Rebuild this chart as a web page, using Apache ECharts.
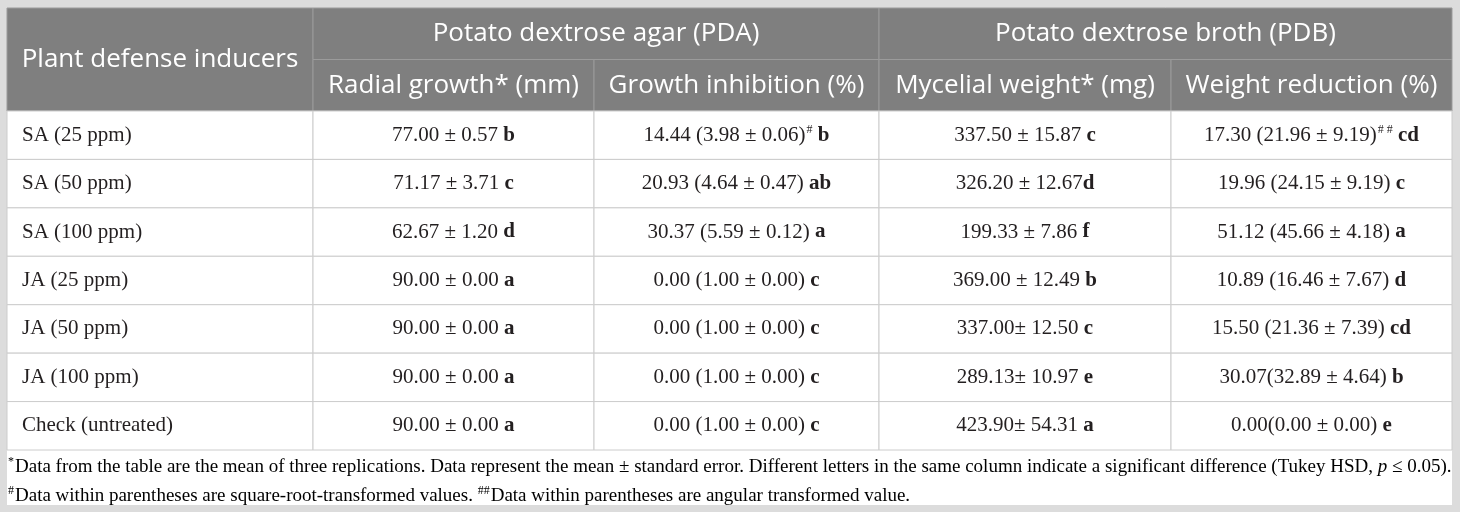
<!DOCTYPE html>
<html><head><meta charset="utf-8">
<script src="https://cdn.jsdelivr.net/npm/echarts@6/dist/echarts.min.js"></script>
<style>html,body{margin:0;padding:0;background:#dcdcdc}#c{width:1460px;height:512px}</style>
</head><body><div id="c"></div>
<script>
// ---- table content ----
const stubHeader = 'Plant defense inducers';
const groupHeaders = ['Potato dextrose agar (PDA)', 'Potato dextrose broth (PDB)'];
const subHeaders = ['Radial growth* (mm)', 'Growth inhibition (%)', 'Mycelial weight* (mg)', 'Weight reduction (%)'];
const treatments = ['SA (25 ppm)', 'SA (50 ppm)', 'SA (100 ppm)', 'JA (25 ppm)', 'JA (50 ppm)', 'JA (100 ppm)', 'Check (untreated)'];

const radialGrowth = ['77.00 ± 0.57', '71.17 ± 3.71', '62.67 ± 1.20', '90.00 ± 0.00', '90.00 ± 0.00', '90.00 ± 0.00', '90.00 ± 0.00'];
const radialLetters = ['b', 'c', 'd', 'a', 'a', 'a', 'a'];
const radialSep = [' ', ' ', ' ', ' ', ' ', ' ', ' '];
const radialSup = ['', '', '', '', '', '', ''];

const growthInhibition = ['14.44 (3.98 ± 0.06)', '20.93 (4.64 ± 0.47)', '30.37 (5.59 ± 0.12)', '0.00 (1.00 ± 0.00)', '0.00 (1.00 ± 0.00)', '0.00 (1.00 ± 0.00)', '0.00 (1.00 ± 0.00)'];
const inhibitionLetters = ['b', 'ab', 'a', 'c', 'c', 'c', 'c'];
const inhibitionSep = [' ', ' ', ' ', ' ', ' ', ' ', ' '];
const inhibitionSup = ['#', '', '', '', '', '', ''];

const mycelialWeight = ['337.50 ± 15.87', '326.20 ± 12.67', '199.33 ± 7.86', '369.00 ± 12.49', '337.00± 12.50', '289.13± 10.97', '423.90± 54.31'];
const mycelialLetters = ['c', 'd', 'f', 'b', 'c', 'e', 'a'];
const mycelialSep = [' ', '', ' ', ' ', ' ', ' ', ' '];
const mycelialSup = ['', '', '', '', '', '', ''];

const weightReduction = ['17.30 (21.96 ± 9.19)', '19.96 (24.15 ± 9.19)', '51.12 (45.66 ± 4.18)', '10.89 (16.46 ± 7.67)', '15.50 (21.36 ± 7.39)', '30.07(32.89 ± 4.64)', '0.00(0.00 ± 0.00)'];
const reductionLetters = ['cd', 'c', 'a', 'd', 'cd', 'b', 'e'];
const reductionSep = [' ', ' ', ' ', ' ', ' ', ' ', ' '];
const reductionSup = ['# #', '', '', '', '', '', ''];

const footnote1 = ['*', 'Data from the table are the mean of three replications. Data represent the mean ± standard error. Different letters in the same column indicate a significant difference (Tukey HSD, ', 'p', ' ≤ 0.05).'];
const footnote2 = ['#', 'Data within parentheses are square-root-transformed values. ', '##', 'Data within parentheses are angular transformed value.'];

// ---- layout (table units along x: column edges) ----
const colEdges = [0, 306, 587, 872, 1164, 1445];
const HEAD_FONT = '"Open Sans", "Noto Sans", sans-serif';
const BODY_FONT = '"Liberation Serif", "DejaVu Serif", serif';

const bodyColumns = [
  [radialGrowth, radialSup, radialSep, radialLetters],
  [growthInhibition, inhibitionSup, inhibitionSep, inhibitionLetters],
  [mycelialWeight, mycelialSup, mycelialSep, mycelialLetters],
  [weightReduction, reductionSup, reductionSep, reductionLetters]
];

// header cells: [xStart, row, xEnd, rowSpan]
const headerData = [], headerTexts = [];
headerData.push([colEdges[0], 0, colEdges[1], 2]); headerTexts.push(stubHeader);
headerData.push([colEdges[1], 0, colEdges[3], 1]); headerTexts.push(groupHeaders[0]);
headerData.push([colEdges[3], 0, colEdges[5], 1]); headerTexts.push(groupHeaders[1]);
subHeaders.forEach((t, j) => { headerData.push([colEdges[j + 1], 1, colEdges[j + 2], 1]); headerTexts.push(t); });

// body cells
const bodyData = [], bodyTexts = [], bodyAlign = [];
treatments.forEach((t, r) => {
  bodyData.push([colEdges[0], r, colEdges[1]]); bodyTexts.push('{n|' + t + '}'); bodyAlign.push('left');
  bodyColumns.forEach((c, j) => {
    let s = '{n|' + c[0][r] + '}';
    if (c[1][r]) s += '{s|' + c[1][r] + '}';
    s += (c[2][r] ? '{n|' + c[2][r] + '}' : '') + '{b|' + c[3][r] + '}';
    bodyData.push([colEdges[j + 1], r, colEdges[j + 2]]); bodyTexts.push(s); bodyAlign.push('center');
  });
});

const bodyRich = {
  n: { fontFamily: BODY_FONT, fontSize: 21, color: '#231f20', lineHeight: 26 },
  b: { fontFamily: BODY_FONT, fontSize: 21, fontWeight: 'bold', color: '#231f20', lineHeight: 26 },
  s: { fontFamily: BODY_FONT, fontSize: 12, color: '#231f20', lineHeight: 12, verticalAlign: 'top', padding: [2, 0, 0, 1] }
};
const footRich = {
  n: { fontFamily: BODY_FONT, fontSize: 19, color: '#231f20', lineHeight: 24 },
  i: { fontFamily: BODY_FONT, fontSize: 19, fontStyle: 'italic', color: '#231f20', lineHeight: 24 },
  s: { fontFamily: BODY_FONT, fontSize: 12, color: '#231f20', lineHeight: 12, verticalAlign: 'top', padding: [1, 1, 0, 0] }
};

function cellRect(api) {
  const p0 = api.coord([api.value(0), api.value(1)]);
  const p1 = api.coord([api.value(2), api.value(1)]);
  const h = api.size([0, 1])[1];
  return { x: p0[0], y: p0[1] - h / 2, w: p1[0] - p0[0], h: h };
}

const chart = echarts.init(document.getElementById('c'), null, { renderer: 'canvas' });
chart.setOption({
  backgroundColor: '#dcdcdc',
  animation: false,
  graphic: [
    { type: 'rect', z: -10, shape: { x: 7, y: 8, width: 1445, height: 497 }, style: { fill: '#ffffff' }, silent: true },
    { type: 'text', left: 8, top: 455, style: {
        text: '{s|' + footnote1[0] + '}{n|' + footnote1[1] + '}{i|' + footnote1[2] + '}{n|' + footnote1[3] + '}', rich: footRich } },
    { type: 'text', left: 8, top: 484, style: {
        text: '{s|' + footnote2[0] + '}{n|' + footnote2[1] + '}{s|' + footnote2[2] + '}{n|' + footnote2[3] + '}', rich: footRich } }
  ],
  grid: [
    { left: 7, width: 1445, top: 8, height: 103 },
    { left: 7, width: 1445, top: 111, height: 339 }
  ],
  xAxis: [
    { gridIndex: 0, type: 'value', min: 0, max: 1445, show: false },
    { gridIndex: 1, type: 'value', min: 0, max: 1445, show: false }
  ],
  yAxis: [
    { gridIndex: 0, type: 'category', data: ['group', 'sub'], inverse: true, show: false },
    { gridIndex: 1, type: 'category', data: treatments, inverse: true, show: false }
  ],
  series: [
    {
      type: 'custom', xAxisIndex: 0, yAxisIndex: 0, data: headerData,
      encode: { x: [0, 2], y: 1 },
      renderItem: function (params, api) {
        const c = cellRect(api);
        const span = api.value(3);
        const h = c.h * span;
        return { type: 'group', children: [
          { type: 'rect', shape: { x: c.x, y: c.y, width: c.w, height: h }, style: { fill: '#7f7f7f', stroke: '#9b9b9b', lineWidth: 1 } },
          { type: 'text', style: { x: c.x + c.w / 2, y: c.y + h / 2, text: headerTexts[params.dataIndex], align: 'center', verticalAlign: 'middle',
              fill: '#ffffff', fontFamily: HEAD_FONT, fontSize: 26 } }
        ] };
      }
    },
    {
      type: 'custom', xAxisIndex: 1, yAxisIndex: 1, data: bodyData,
      encode: { x: [0, 2], y: 1 },
      renderItem: function (params, api) {
        const c = cellRect(api);
        const al = bodyAlign[params.dataIndex];
        return { type: 'group', children: [
          { type: 'rect', shape: { x: c.x, y: c.y, width: c.w, height: c.h }, style: { fill: '#ffffff', stroke: '#cccccc', lineWidth: 1 } },
          { type: 'text', style: { x: al === 'left' ? c.x + 15 : c.x + c.w / 2, y: c.y + c.h / 2, text: bodyTexts[params.dataIndex], rich: bodyRich,
              align: al, verticalAlign: 'middle', fill: '#231f20', fontFamily: BODY_FONT, fontSize: 21 } }
        ] };
      }
    }
  ]
});
</script>
</body></html>
